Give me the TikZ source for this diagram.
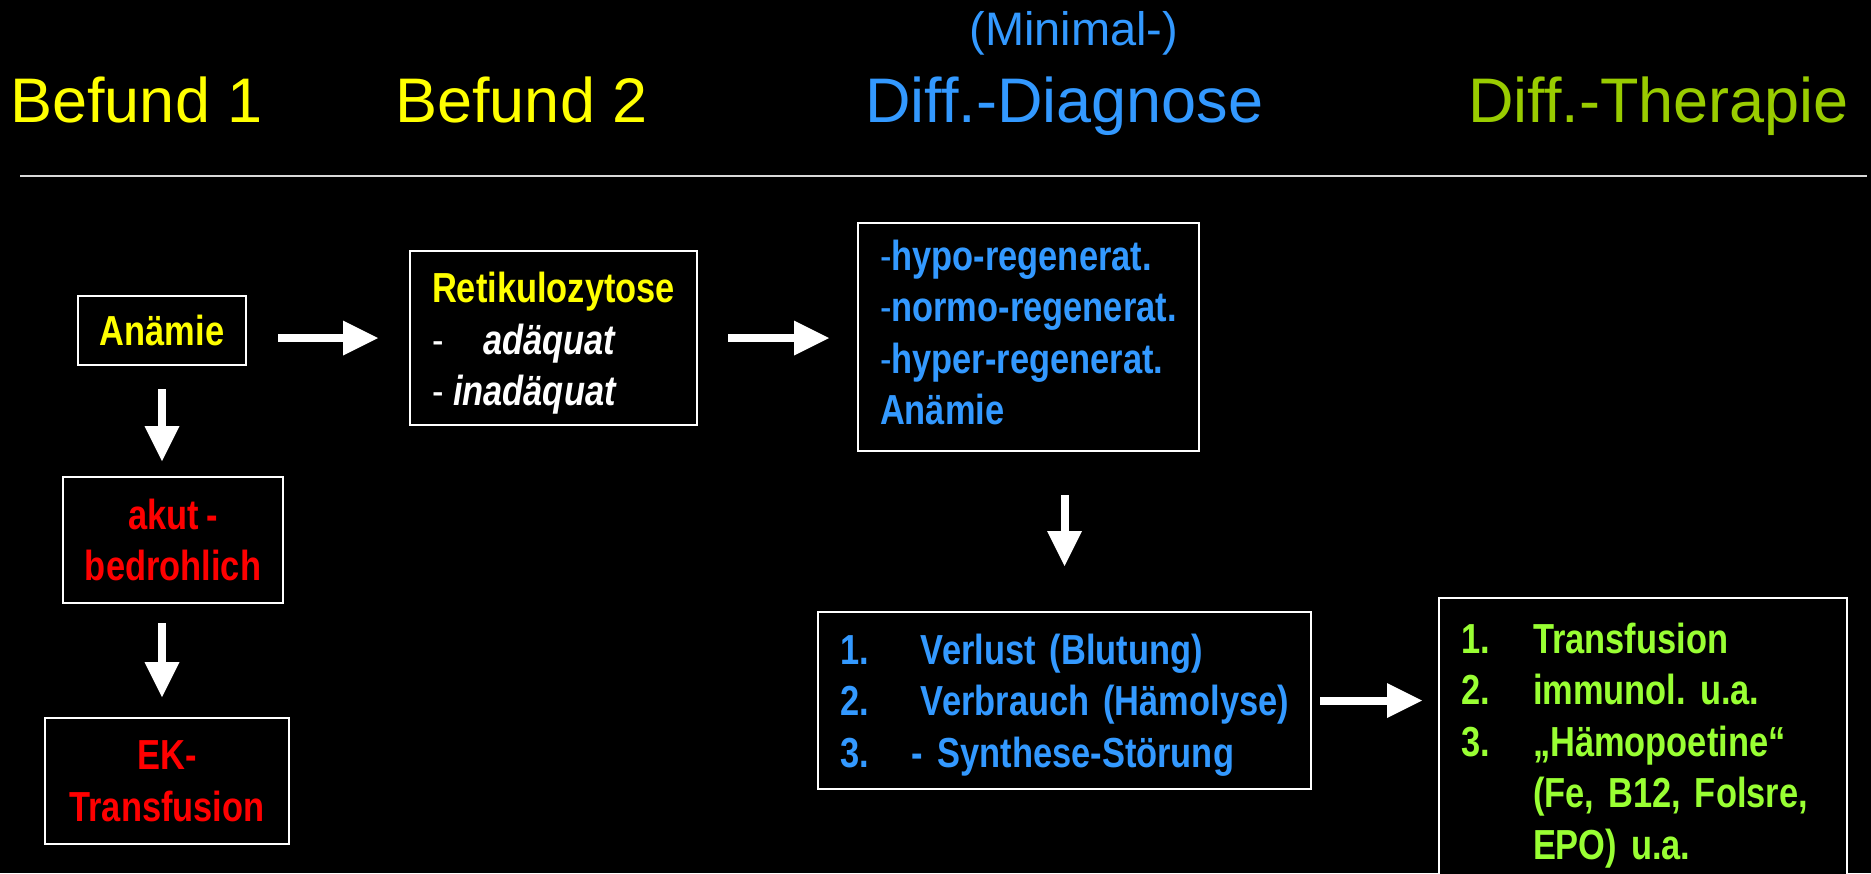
\documentclass[tikz,border=0pt]{standalone}
\usepackage{fontspec}
\setmainfont{Liberation Sans}
\newfontfamily\narrowfont[FakeStretch=0.82, WordSpace=0.75]{Liberation Sans}
\usetikzlibrary{arrows.meta, calc, positioning}

\definecolor{titleyellow}{RGB}{255,255,0}
\definecolor{diagblue}{RGB}{51,153,255}
\definecolor{therapygreen}{RGB}{153,204,0}
\definecolor{listgreen}{RGB}{153,255,51}
\definecolor{alarmred}{RGB}{255,0,0}

\newlength\pxu
\setlength\pxu{0.5pt}
\frenchspacing

\begin{document}
\begin{tikzpicture}[x=0.5pt, y=-0.5pt]
    \tikzset{
      my box/.style={
        draw=white, line width=1pt, fill=black, inner xsep=11pt, inner ysep=0pt,
        font=\narrowfont\bfseries\fontsize{21}{25.75}\selectfont
      },
      my title/.style={
        anchor=base west, inner sep=0pt, font=\fontsize{31.5}{37}\selectfont
      },
      my block arrow/.style={
        draw=white, line width=4pt,
        -{Triangle[width=17.5pt, length=17.5pt, line width=0pt]},
      },
    }
    \fill[black] (0,0) rectangle (1871,873);
    \clip (0,0) rectangle (1871,873);

    % Titles
    \foreach[count=\i] \x/\name/\col in {10/Befund 1/titleyellow, 395/Befund 2/titleyellow,
      865/Diff.-Diagnose/diagblue, 1468/Diff.-Therapie/therapygreen} {
      \node (title\i) [my title, text=\col] at (\x,122) {\name};
    }
    \node (minimal) [my title, text=diagblue, font=\fontsize{23.5}{28}\selectfont] at (969,45) {(Minimal-)};
    \coordinate (rule west) at (20,176);
    \coordinate (rule east) at (1867,176);
    \draw[white!85!black, line width=1pt] (rule west) -- (rule east);

    % Boxes
    \node (anaemia) [my box, minimum width=166\pxu, minimum height=69\pxu, text=titleyellow]
      at (162,330.5) {Anämie};
    \node (akut) [my box, minimum width=220\pxu, minimum height=126\pxu, align=center, text=alarmred]
      at (173,540) {akut -\\bedrohlich};
    \node (ek) [my box, minimum width=244\pxu, minimum height=126\pxu, align=center, text=alarmred]
      at (167,781) {EK-\\Transfusion};
    \node (reti) [my box, minimum width=287\pxu, minimum height=174\pxu, text width=243\pxu,
      align=left, text=white] at (553.5,338) {%
      \begin{tabular}{@{}l@{}}
        \rule{0pt}{48\pxu}\textcolor{titleyellow}{Retikulozytose}\\
        \makebox[51\pxu][l]{\mdseries -}\textit{adäquat}\\
        \makebox[21\pxu][l]{\mdseries -}\textit{inadäquat}
      \end{tabular}};
    \node (hypo) [my box, minimum width=341\pxu, minimum height=228\pxu, text width=297\pxu,
      align=left, text=diagblue] at (1028.5,337) {%
      \begin{tabular}{@{}l@{}}
        {\mdseries -}hypo-regenerat.\\
        {\mdseries -}normo-regenerat.\\
        {\mdseries -}hyper-regenerat.\\
        Anämie
      \end{tabular}};
    \node (verlust) [my box, minimum width=493\pxu, minimum height=177\pxu, text width=449\pxu,
      align=left, text=diagblue] at (1064.5,700.5) {%
      \begin{tabular}{@{}p{81\pxu}@{}l@{}}
        \rule{0pt}{46\pxu}1. & Verlust (Blutung)\\
        2. & Verbrauch (Hämolyse)\\
        3. & \hspace*{-9\pxu}- Synthese-Störung
      \end{tabular}};
    \node (therapy) [my box, minimum width=408\pxu, minimum height=292\pxu, text width=364\pxu,
      align=left, text=listgreen] at (1643,744) {%
      \begin{tabular}{@{}p{72\pxu}@{}l@{}}
        \rule{0pt}{40\pxu}1. & Transfusion\\
        2. & immunol. u.a.\\
        3. & „Hämopoetine“\\
           & (Fe, B12, Folsre,\\
           & EPO) u.a.
      \end{tabular}};

    % Arrows
    \draw[my block arrow, shorten <=31\pxu, shorten >=31\pxu] (anaemia.east |- reti.west) -- (reti.west);
    \draw[my block arrow, shorten <=30\pxu, shorten >=28\pxu] (reti.east) -- (reti.east -| hypo.west);
    \draw[my block arrow, shorten <=43\pxu, shorten >=45\pxu] (verlust.north |- hypo.south) -- (verlust.north);
    \draw[my block arrow, shorten <=8\pxu, shorten >=16\pxu] (verlust.east) -- (verlust.east -| therapy.west);
    \draw[my block arrow, shorten <=23\pxu, shorten >=15\pxu] (anaemia.south) -- (anaemia.south |- akut.north);
    \draw[my block arrow, shorten <=19\pxu, shorten >=20\pxu] (anaemia.south |- akut.south) -- (anaemia.south |- ek.north);

\end{tikzpicture}
\end{document}
